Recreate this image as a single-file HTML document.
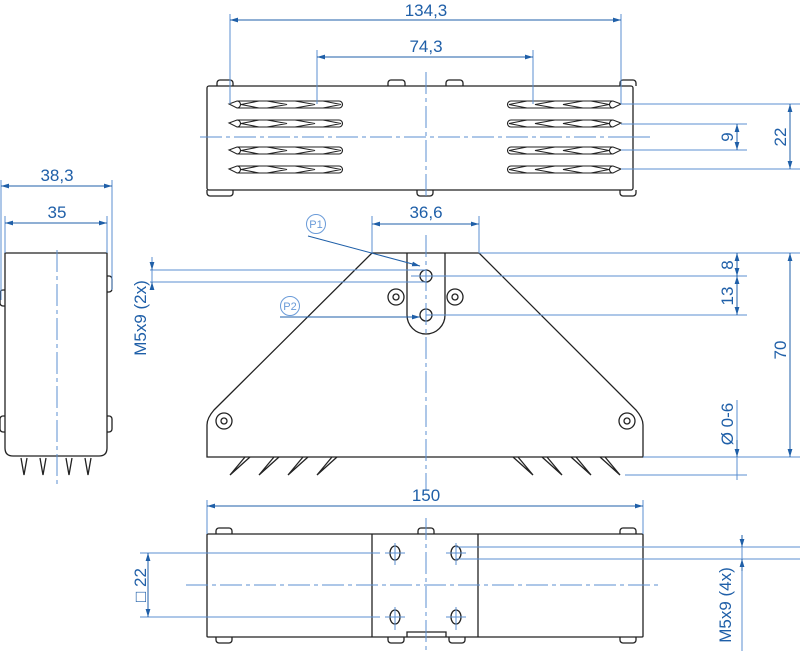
<!DOCTYPE html>
<html><head><meta charset="utf-8"><style>
html,body{margin:0;padding:0;background:#fff;}
svg{display:block;}
text{font-family:"Liberation Sans",sans-serif;fill:#1f5fa8;font-size:17px;}
</style></head><body>
<svg width="800" height="651" viewBox="0 0 800 651" xmlns="http://www.w3.org/2000/svg">
<defs>
<marker id="a" viewBox="0 0 10 6" refX="10" refY="3" markerWidth="8" markerHeight="5" orient="auto-start-reverse"><path d="M0,0L10,3L0,6z" fill="#1f5fa8"/></marker>
<g id="slotL" fill="none" stroke="#222" stroke-width="1.1">
<path d="M0,0 L8,-3 L110,-3 A3.5,3.5 0 0 1 110,4 L8,4 Z"/>
<path d="M8,-3 A3.5 3.5 0 0 1 8,4 M30,-3 L12,0.5 L30,4 M38,-3 L58,0.5 L38,4 M66,-3 L86,0.5 L66,4 M94,-3 L112,0.5 L94,4"/>
</g>
<g id="slotR"><use href="#slotL" transform="scale(-1,1)"/></g>
</defs>
<g stroke="#222" stroke-width="1.3" fill="none">
<rect x="207" y="86" width="426" height="104" rx="2"/>
<path d="M217,86v-3a3,3 0 0 1 3,-3h10a3,3 0 0 1 3,3v3 M388,86v-3a3,3 0 0 1 3,-3h11a3,3 0 0 1 3,3v3 M446,86v-3a3,3 0 0 1 3,-3h11a3,3 0 0 1 3,3v3 M620,86v-3a3,3 0 0 1 3,-3h10a3,3 0 0 1 3,3v3"/>
<path d="M207,190v3a3,3 0 0 0 3,3h20a3,3 0 0 0 3,-3v-3 M417,190v3a3,3 0 0 0 3,3h10a3,3 0 0 0 3,-3v-3 M620,190v3a3,3 0 0 0 3,3h10a3,3 0 0 0 3,-3v-3"/>
</g>
<use href="#slotL" x="229" y="104"/><use href="#slotL" x="229" y="123"/><use href="#slotL" x="229" y="150"/><use href="#slotL" x="229" y="169"/>
<use href="#slotR" x="621" y="104"/><use href="#slotR" x="621" y="123"/><use href="#slotR" x="621" y="150"/><use href="#slotR" x="621" y="169"/>

<g stroke="#222" stroke-width="1.3" fill="none">
<path d="M372,253 L479,253 L636,410 Q643,418 643,425 L643,457 L207,457 L207,425 Q207,418 214,410 Z"/>
<path d="M407,253 V315 A19,19 0 0 0 445,315 V253"/>
<circle cx="426" cy="276" r="6"/><circle cx="426" cy="315" r="6"/>
<circle cx="396" cy="297" r="8"/><circle cx="396" cy="297" r="3"/>
<circle cx="455" cy="297" r="8"/><circle cx="455" cy="297" r="3"/>
<circle cx="224" cy="421" r="8"/><circle cx="224" cy="421" r="3"/>
<circle cx="627" cy="421" r="8"/><circle cx="627" cy="421" r="3"/>
<path d="M250,457 L230,475 L245,457 M279,457 L259,475 L274,457 M308,457 L288,475 L303,457 M337,457 L317,475 L332,457"/>
<path d="M513,457 L533,475 L518,457 M542,457 L562,475 L547,457 M571,457 L591,475 L576,457 M600,457 L620,475 L605,457"/>
<path d="M5,253 H107 V448 Q107,456 99,456 H13 Q5,456 5,448 Z"/>
<path d="M5,290 h-2a3,3 0 0 0 -3,3v10a3,3 0 0 0 3,3h2 M5,416 h-2a3,3 0 0 0 -3,3v10a3,3 0 0 0 3,3h2 M107,276 h2a3,3 0 0 1 3,3v10a3,3 0 0 1 -3,3h-2 M107,416 h2a3,3 0 0 1 3,3v10a3,3 0 0 1 -3,3h-2"/>
<path d="M21,458 L24,475 L27,458 M40,458 L43,475 L46,458 M66,458 L69,475 L72,458 M85,458 L88,475 L91,458"/>
<rect x="207" y="534" width="436" height="103" rx="1"/>
<path d="M372,534 V637 M478,534 V637 M407,637 V632 H446 V637"/>
<path d="M216,534v-3a3,3 0 0 1 3,-3h10a3,3 0 0 1 3,3v3 M418,534v-3a3,3 0 0 1 3,-3h10a3,3 0 0 1 3,3v3 M620,534v-3a3,3 0 0 1 3,-3h10a3,3 0 0 1 3,3v3"/>
<path d="M216,637v3a3,3 0 0 0 3,3h10a3,3 0 0 0 3,-3v-3 M388,637v3a3,3 0 0 0 3,3h10a3,3 0 0 0 3,-3v-3 M449,637v3a3,3 0 0 0 3,3h10a3,3 0 0 0 3,-3v-3 M620,637v3a3,3 0 0 0 3,3h10a3,3 0 0 0 3,-3v-3"/>
<ellipse cx="395" cy="553" rx="5" ry="7"/><ellipse cx="456" cy="553" rx="5" ry="7"/>
<ellipse cx="395" cy="617" rx="5" ry="7"/><ellipse cx="456" cy="617" rx="5" ry="7"/>
</g>

<g stroke="#5b8fd0" stroke-width="1" fill="none">
<path d="M200,137 H650" stroke-dasharray="22,4,4,4"/>
<path d="M426,72 V200" stroke-dasharray="22,4,4,4"/>
<path d="M426,235 V490" stroke-dasharray="22,4,4,4"/>
<path d="M57,250 V488" stroke-dasharray="22,4,4,4"/>
<path d="M186,585 H662" stroke-dasharray="22,4,4,4"/>
<path d="M426,518 V651" stroke-dasharray="22,4,4,4"/>
<path d="M230,14 V104 M621,14 V104 M317,50 V104 M533,50 V104"/>
<path d="M621,104 H800 M621,169 H800 M621,124 H747 M621,150 H747 M627,137 H650"/>
<path d="M372,216 V253 M479,216 V253 M479,253 H800 M411,276 H747 M426,315 H747 M150,270 H426 M150,282 H426"/>
<path d="M643,457 H800 M625,475 H747 M737,400 V480"/>
<path d="M1,180 V300 M112,180 V290 M5,216 V253 M107,216 V253"/>
<path d="M207,500 V534 M643,500 V534 M140,553 H380 M140,617 H380 M395,543 V565 M456,543 V565 M395,607 V630 M456,607 V630 M385,553 H405 M446,553 H466 M385,617 H405 M446,617 H466"/>
<path d="M456,547 H800 M456,559 H800 M742,535 V651"/>
<path d="M152,257 V290"/>
</g>
<g stroke="#1f5fa8" stroke-width="1" fill="none">
<path d="M230,20 H621" marker-start="url(#a)" marker-end="url(#a)"/>
<path d="M317,57 H533" marker-start="url(#a)" marker-end="url(#a)"/>
<path d="M737,124 V150" marker-start="url(#a)" marker-end="url(#a)"/>
<path d="M790,104 V169" marker-start="url(#a)" marker-end="url(#a)"/>
<path d="M372,224 H479" marker-start="url(#a)" marker-end="url(#a)"/>
<path d="M737,253 V276" marker-start="url(#a)" marker-end="url(#a)"/>
<path d="M737,276 V315" marker-start="url(#a)" marker-end="url(#a)"/>
<path d="M790,253 V457" marker-start="url(#a)" marker-end="url(#a)"/>
<path d="M737,440 V457" marker-end="url(#a)"/>
<path d="M1,186 H112" marker-start="url(#a)" marker-end="url(#a)"/>
<path d="M5,223 H107" marker-start="url(#a)" marker-end="url(#a)"/>
<path d="M207,506 H643" marker-start="url(#a)" marker-end="url(#a)"/>
<path d="M148,553 V617" marker-start="url(#a)" marker-end="url(#a)"/>
<path d="M742,535 V547" marker-end="url(#a)"/>
<path d="M742,571 V559" marker-end="url(#a)"/>
<path d="M152,262 V270" marker-end="url(#a)"/>
<path d="M152,290 V282" marker-end="url(#a)"/>
<path d="M308,236 L420,266" marker-end="url(#a)"/>
<path d="M280,317 H420" marker-end="url(#a)"/>
</g>
<g fill="none" stroke="#6a9bd8" stroke-width="1">
<circle cx="316" cy="224" r="9.5"/><circle cx="290" cy="306" r="9.5"/>
</g>
<text x="316" y="228" text-anchor="middle" style="font-size:11px;fill:#6a9bd8">P1</text>
<text x="290" y="310" text-anchor="middle" style="font-size:11px;fill:#6a9bd8">P2</text>

<text x="426" y="16" text-anchor="middle">134,3</text>
<text x="426" y="52" text-anchor="middle">74,3</text>
<text x="426" y="218" text-anchor="middle">36,6</text>
<text x="57" y="181" text-anchor="middle">38,3</text>
<text x="57" y="218" text-anchor="middle">35</text>
<text x="426" y="501" text-anchor="middle">150</text>
<text transform="translate(733,137) rotate(-90)" text-anchor="middle">9</text>
<text transform="translate(786,137) rotate(-90)" text-anchor="middle">22</text>
<text transform="translate(733,265) rotate(-90)" text-anchor="middle">8</text>
<text transform="translate(733,296) rotate(-90)" text-anchor="middle">13</text>
<text transform="translate(786,350) rotate(-90)" text-anchor="middle">70</text>
<text transform="translate(733,424) rotate(-90)" text-anchor="middle">Ø 0-6</text>
<text transform="translate(146,318) rotate(-90)" text-anchor="middle">M5x9 (2x)</text>
<text transform="translate(146,585) rotate(-90)" text-anchor="middle">□ 22</text>
<text transform="translate(731,605) rotate(-90)" text-anchor="middle">M5x9 (4x)</text>
</svg>
</body></html>
